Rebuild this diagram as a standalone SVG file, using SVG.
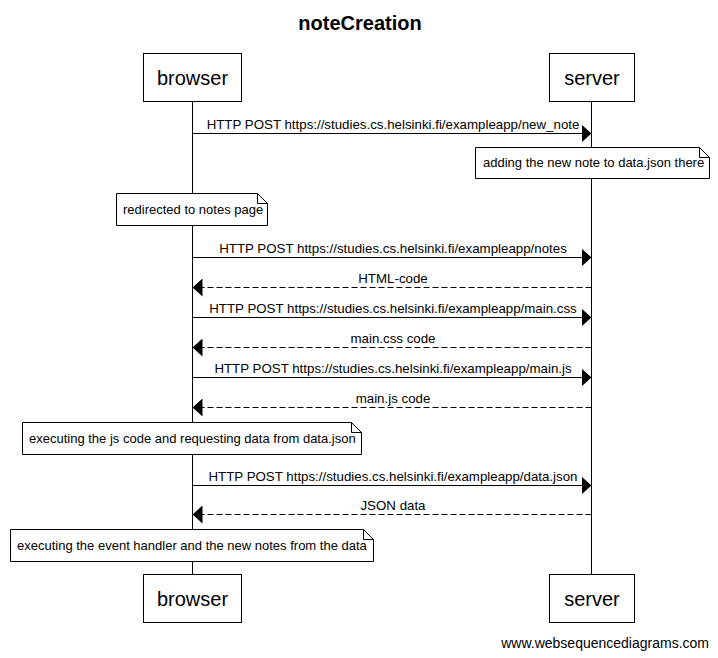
<svg xmlns="http://www.w3.org/2000/svg" width="718" height="658" viewBox="0 0 718 658">
<style>
text{font-family:"Liberation Sans",Arial,sans-serif;fill:#000}
.actor rect{fill:#fff;stroke:#000;stroke-width:1}
.actor text{font-size:20px;text-anchor:middle}
.life{stroke:#000;stroke-width:1}
.msg{stroke:#000;stroke-width:1;fill:none}
.dash{stroke-dasharray:6,3}
.lbl{font-size:13.3px;text-anchor:middle}
.note path{fill:#fff;stroke:#000;stroke-width:1}
.note text{font-size:13px}
</style>
<defs>
<marker id="ah" markerWidth="11" markerHeight="18" refX="10" refY="9" orient="auto" markerUnits="userSpaceOnUse">
<path d="M0,0 L10,9 L0,18 Z" fill="#000"/>
</marker>
</defs>
<rect width="718" height="658" fill="#fff"/>
<text x="360" y="30" font-size="20" font-weight="bold" text-anchor="middle">noteCreation</text>
<g id="lifelines">
<line class="life" x1="192.5" y1="102" x2="192.5" y2="574"/>
<line class="life" x1="591.5" y1="102" x2="591.5" y2="574"/>
</g>
<g id="browser" class="actor">
<rect x="143.5" y="53.5" width="98" height="48"/>
<text x="192.5" y="85">browser</text>
</g>
<g id="server" class="actor">
<rect x="549.5" y="53.5" width="85" height="48"/>
<text x="592" y="85">server</text>
</g>
<g id="browser-bottom" class="actor">
<rect x="143.5" y="574.5" width="98" height="48"/>
<text x="192.5" y="606">browser</text>
</g>
<g id="server-bottom" class="actor">
<rect x="549.5" y="574.5" width="85" height="48"/>
<text x="592" y="606">server</text>
</g>
<g id="connectors">
<line class="msg" x1="192.5" y1="133.5" x2="591.5" y2="133.5" marker-end="url(#ah)"/>
<text class="lbl" x="393" y="129">HTTP POST https://studies.cs.helsinki.fi/exampleapp/new_note</text>
<line class="msg" x1="192.5" y1="257.5" x2="591.5" y2="257.5" marker-end="url(#ah)"/>
<text class="lbl" x="393" y="253">HTTP POST https://studies.cs.helsinki.fi/exampleapp/notes</text>
<line class="msg dash" x1="591.5" y1="287.5" x2="192.5" y2="287.5" marker-end="url(#ah)"/>
<text class="lbl" x="393" y="283">HTML-code</text>
<line class="msg" x1="192.5" y1="317.5" x2="591.5" y2="317.5" marker-end="url(#ah)"/>
<text class="lbl" x="393" y="313">HTTP POST https://studies.cs.helsinki.fi/exampleapp/main.css</text>
<line class="msg dash" x1="591.5" y1="347.5" x2="192.5" y2="347.5" marker-end="url(#ah)"/>
<text class="lbl" x="393" y="343">main.css code</text>
<line class="msg" x1="192.5" y1="377.5" x2="591.5" y2="377.5" marker-end="url(#ah)"/>
<text class="lbl" x="393" y="373">HTTP POST https://studies.cs.helsinki.fi/exampleapp/main.js</text>
<line class="msg dash" x1="591.5" y1="407.5" x2="192.5" y2="407.5" marker-end="url(#ah)"/>
<text class="lbl" x="393" y="403">main.js code</text>
<line class="msg" x1="192.5" y1="485.5" x2="591.5" y2="485.5" marker-end="url(#ah)"/>
<text class="lbl" x="393" y="481">HTTP POST https://studies.cs.helsinki.fi/exampleapp/data.json</text>
<line class="msg dash" x1="591.5" y1="514.5" x2="192.5" y2="514.5" marker-end="url(#ah)"/>
<text class="lbl" x="393" y="510">JSON data</text>
</g>
<g id="note1" class="note">
<path d="M475.5,147.5 H699.5 L709.5,157.5 V178.5 H475.5 Z M699.5,147.5 V157.5 H709.5"/>
<text x="483" y="167">adding the new note to data.json there</text>
</g>
<g id="note2" class="note">
<path d="M116.5,193.5 H257.5 L267.5,203.5 V225.5 H116.5 Z M257.5,193.5 V203.5 H267.5"/>
<text x="123" y="214">redirected to notes page</text>
</g>
<g id="note3" class="note">
<path d="M22.5,422.5 H351.5 L361.5,432.5 V454.5 H22.5 Z M351.5,422.5 V432.5 H361.5"/>
<text x="29" y="443">executing the js code and requesting data from data.json</text>
</g>
<g id="note4" class="note">
<path d="M10.5,529.5 H363.5 L373.5,539.5 V561.5 H10.5 Z M363.5,529.5 V539.5 H373.5"/>
<text x="17" y="550">executing the event handler and the new notes from the data</text>
</g>
<text x="709" y="648" font-size="14" text-anchor="end">www.websequencediagrams.com</text>
</svg>
